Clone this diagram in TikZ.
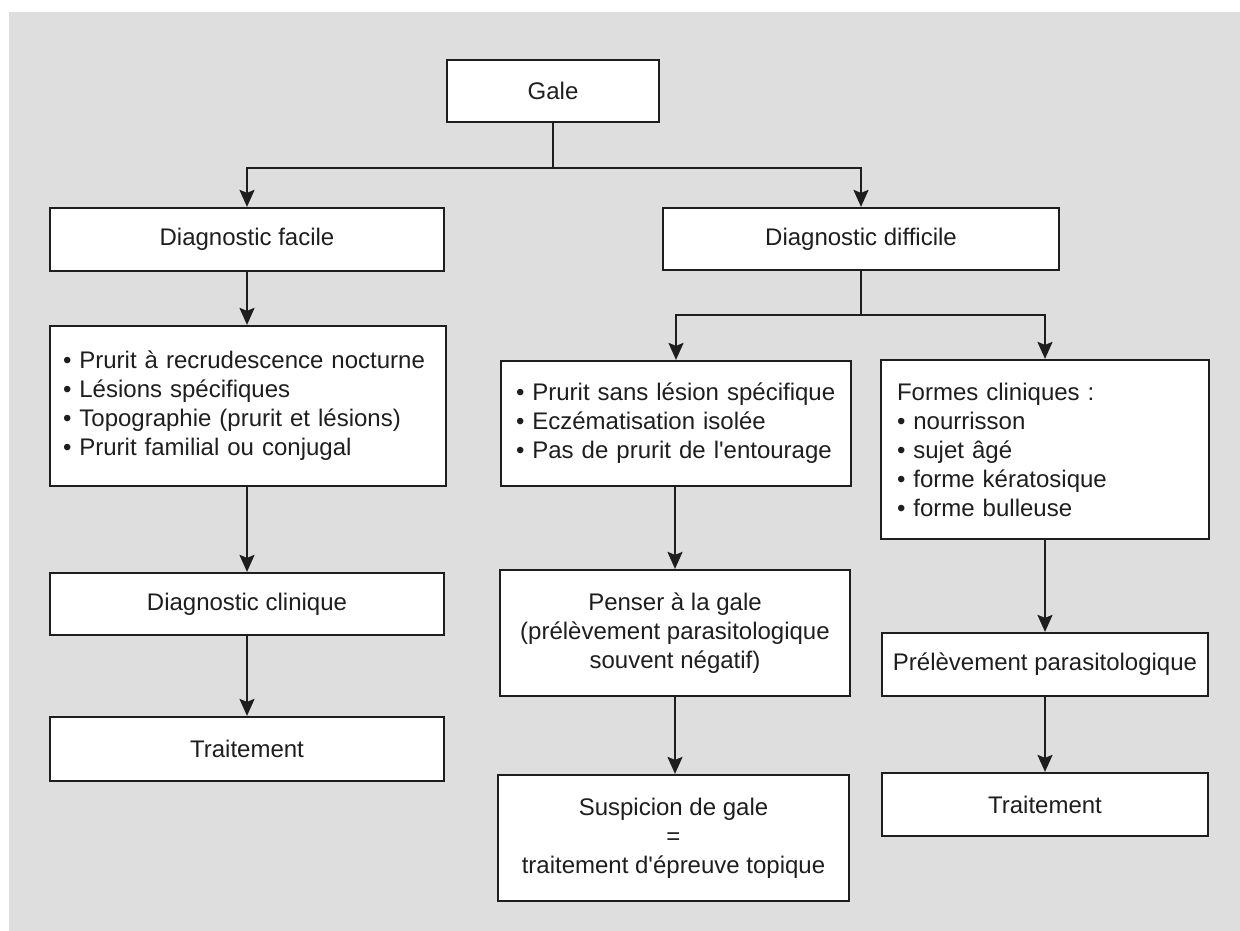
\documentclass[tikz,border=0pt]{standalone}
\usepackage{fontspec}
\setmainfont{Liberation Sans}
\usetikzlibrary{arrows.meta}
\definecolor{bgrey}{HTML}{DEDEDE}
\definecolor{ink}{HTML}{1E1E1E}
\begin{document}
\begin{tikzpicture}[x=1pt,y=-1pt,
  box/.style={draw=ink, line width=2.2pt, fill=white, inner sep=0pt,
    font=\fontsize{24}{29}\selectfont, text=ink},
  arr/.style={draw=ink, line width=2.3pt, -{Stealth[length=17pt,width=15pt,inset=3pt]}},
  ln/.style={draw=ink, line width=2.3pt}]
\useasboundingbox (0,0) rectangle (1240,931);
\fill[white] (0,0) rectangle (1240,931);
\fill[bgrey] (9,12) rectangle (1240,931);

\node[box, minimum width=212pt, minimum height=62pt] (gale) at (553,91) {Gale};
\node[box, minimum width=394pt, minimum height=63pt] (facile) at (247,239.5) {Diagnostic facile};
\node[box, minimum width=396pt, minimum height=62pt] (diff) at (861,239) {Diagnostic difficile};
\node[box, minimum width=396pt, minimum height=160pt, text width=370pt, align=left] (list1) at (248,406)
  {• Prurit à recrudescence nocturne\\• Lésions spécifiques\\• Topographie (prurit et lésions)\\• Prurit familial ou conjugal};
\node[box, minimum width=350pt, minimum height=125pt, text width=320pt, align=left] (list2) at (676,423.5)
  {• Prurit sans lésion spécifique\\• Eczématisation isolée\\• Pas de prurit de l\textquotesingle entourage};
\node[box, minimum width=328pt, minimum height=179pt, text width=296pt, align=left] (formes) at (1045,449.5)
  {Formes cliniques :\\• nourrisson\\• sujet âgé\\• forme kératosique\\• forme bulleuse};
\node[box, minimum width=394pt, minimum height=62pt] (clin) at (247,604) {Diagnostic clinique};
\node[box, minimum width=394pt, minimum height=64pt] (trait1) at (247,749) {Traitement};
\node[box, minimum width=350pt, minimum height=126pt, align=center] (penser) at (675,633)
  {Penser à la gale\\(prélèvement parasitologique\\souvent négatif)};
\node[box, minimum width=351pt, minimum height=126pt, align=center] (susp) at (673.5,838)
  {Suspicion de gale\\=\\traitement d\textquotesingle épreuve topique};
\node[box, minimum width=326pt, minimum height=63pt] (prel) at (1045,664.5) {Prélèvement parasitologique};
\node[box, minimum width=326pt, minimum height=63pt] (trait3) at (1045,804.5) {Traitement};

\coordinate (j1) at (553,168);
\coordinate (j2) at (861,315);
\draw[ln] (gale.south) -- (j1);
\draw[arr] (j1) -| (facile.north);
\draw[arr] (j1) -| (diff.north);
\draw[ln] (diff.south) -- (j2);
\draw[arr] (j2) -| (list2.north);
\draw[arr] (j2) -| (formes.north);
\draw[arr] (facile.south) -- (list1.north -| facile.south);
\draw[arr] (list1.south -| clin.north) -- (clin.north);
\draw[arr] (clin.south) -- (trait1.north);
\draw[arr] (list2.south -| penser.north) -- (penser.north);
\draw[arr] (penser.south) -- (penser.south |- susp.north);
\draw[arr] (formes.south) -- (prel.north);
\draw[arr] (prel.south) -- (trait3.north);
\end{tikzpicture}
\end{document}
